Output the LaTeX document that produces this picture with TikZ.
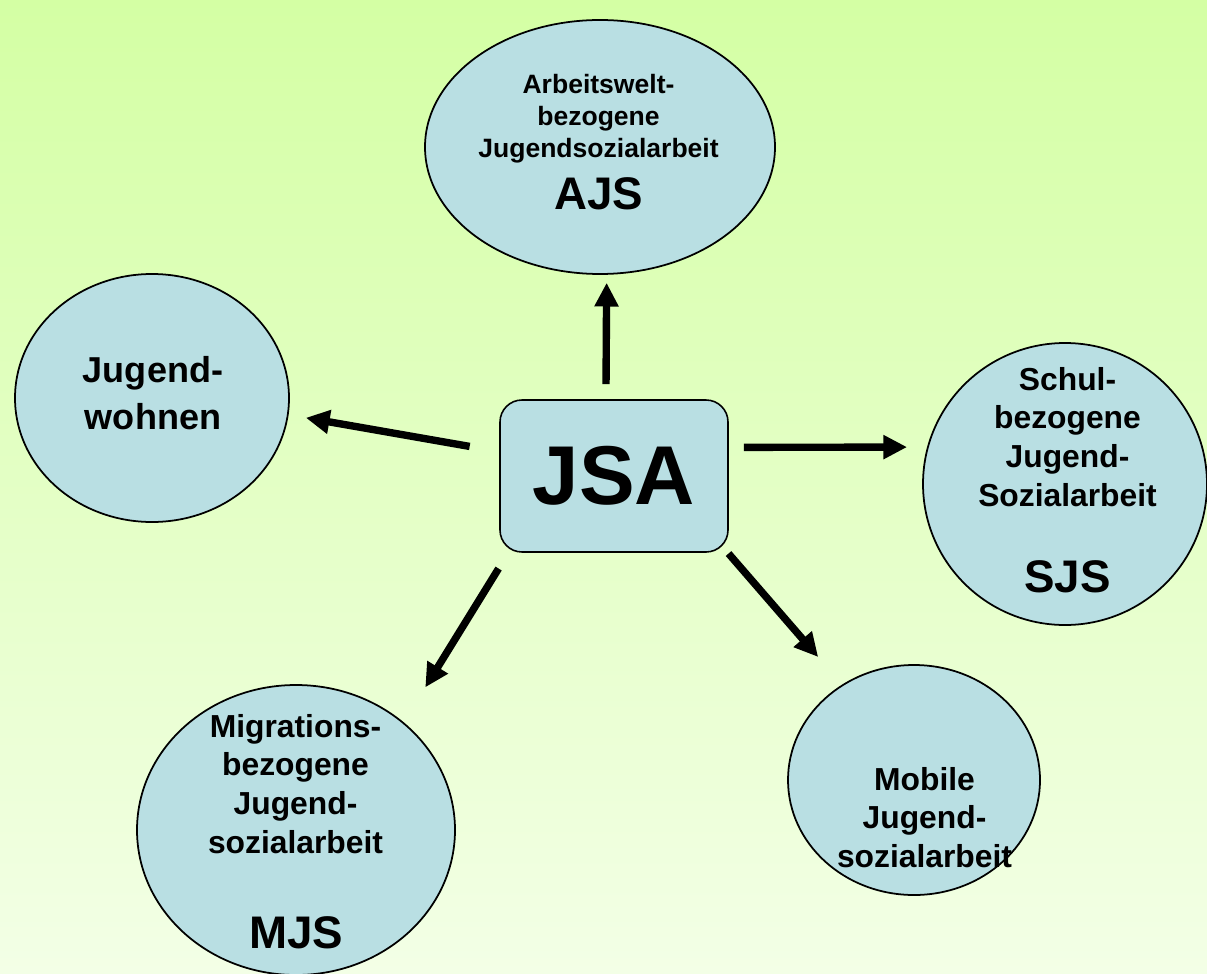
\documentclass[tikz,border=0pt]{standalone}
\usepackage{fontspec}
\setmainfont{Liberation Sans}
\usepackage{xcolor}
\usepackage{tikz}
\usetikzlibrary{arrows.meta,positioning,shapes.geometric}
\definecolor{bgtop}{RGB}{212,255,164}
\definecolor{bgbot}{RGB}{243,255,230}
\definecolor{blobfill}{RGB}{185,223,227}
\begin{document}
\begin{tikzpicture}[>=Stealth,
  blob/.style={ellipse,draw,line width=1pt,fill=blobfill,inner sep=0pt},
  txt/.style={align=center,inner sep=0pt,font=\bfseries\fontsize{18.1}{22.1}\selectfont},
  abbr/.style={anchor=base,inner sep=0pt,font=\bfseries\fontsize{26}{30}\selectfont},
  arr/.style={-{Triangle[length=13.5pt,width=13pt]},line width=4.2pt}]
  \useasboundingbox (0,0) rectangle (24.14,-19.46);
  \shade[top color=bgtop,bottom color=bgbot] (0,0) rectangle (24.14,-19.46);
  % centre
  \node[draw,line width=0.9pt,fill=blobfill,rounded corners=0.44cm,minimum width=4.56cm,minimum height=3.04cm,
    font=\bfseries\fontsize{47.5}{50}\selectfont](jsa) at (12.28,-9.52){JSA};
  % fields
  \node[blob,minimum width=7cm,minimum height=5.08cm](ajs) at (12.0,-2.94){};
  \node[txt,font=\bfseries\fontsize{15.1}{18.2}\selectfont](ajs-t) at (11.97,-2.38){Arbeitswelt-\\bezogene\\Jugendsozialarbeit};
  \node[abbr](ajs-a) at (11.98,-4.2){AJS};
  \node[blob,minimum width=5.48cm,minimum height=4.96cm](wohn) at (3.04,-7.96){};
  \node[txt,font=\bfseries\fontsize{20.5}{26.7}\selectfont](wohn-t) at (3.06,-7.87){Jugend-\\wohnen};
  \node[blob,minimum width=5.68cm,minimum height=5.64cm](sjs) at (21.3,-9.68){};
  \node[txt](sjs-t) at (21.35,-8.74){Schul-\\bezogene\\Jugend-\\Sozialarbeit};
  \node[abbr](sjs-a) at (21.35,-11.84){SJS};
  \node[blob,minimum width=6.36cm,minimum height=5.8cm](mjs) at (5.92,-16.6){};
  \node[txt](mjs-t) at (5.91,-15.68){Migrations-\\bezogene\\Jugend-\\sozialarbeit};
  \node[abbr](mjs-a) at (5.92,-18.96){MJS};
  \node[blob,minimum width=5.04cm,minimum height=4.6cm](mob) at (18.28,-15.6){};
  \node[txt](mob-t) at (18.49,-16.35){Mobile\\Jugend-\\sozialarbeit};
  % arrows
  \draw[arr,shorten <=0.3cm,shorten >=0.16cm] (jsa.96)--(ajs.-87);
  \draw[arr,shorten <=0.6cm,shorten >=0.35cm] (jsa.168)--(wohn.-7);
  \draw[arr,shorten <=0.3cm,shorten >=0.4cm] (jsa.14)--(sjs.165);
  \draw[arr,shorten <=0.37cm,shorten >=0.82cm] (jsa.216)--(mjs.45);
  \draw[arr,shorten <=0.02cm,shorten >=0.73cm] (jsa.-34)--(mob.127);
\end{tikzpicture}
\end{document}
